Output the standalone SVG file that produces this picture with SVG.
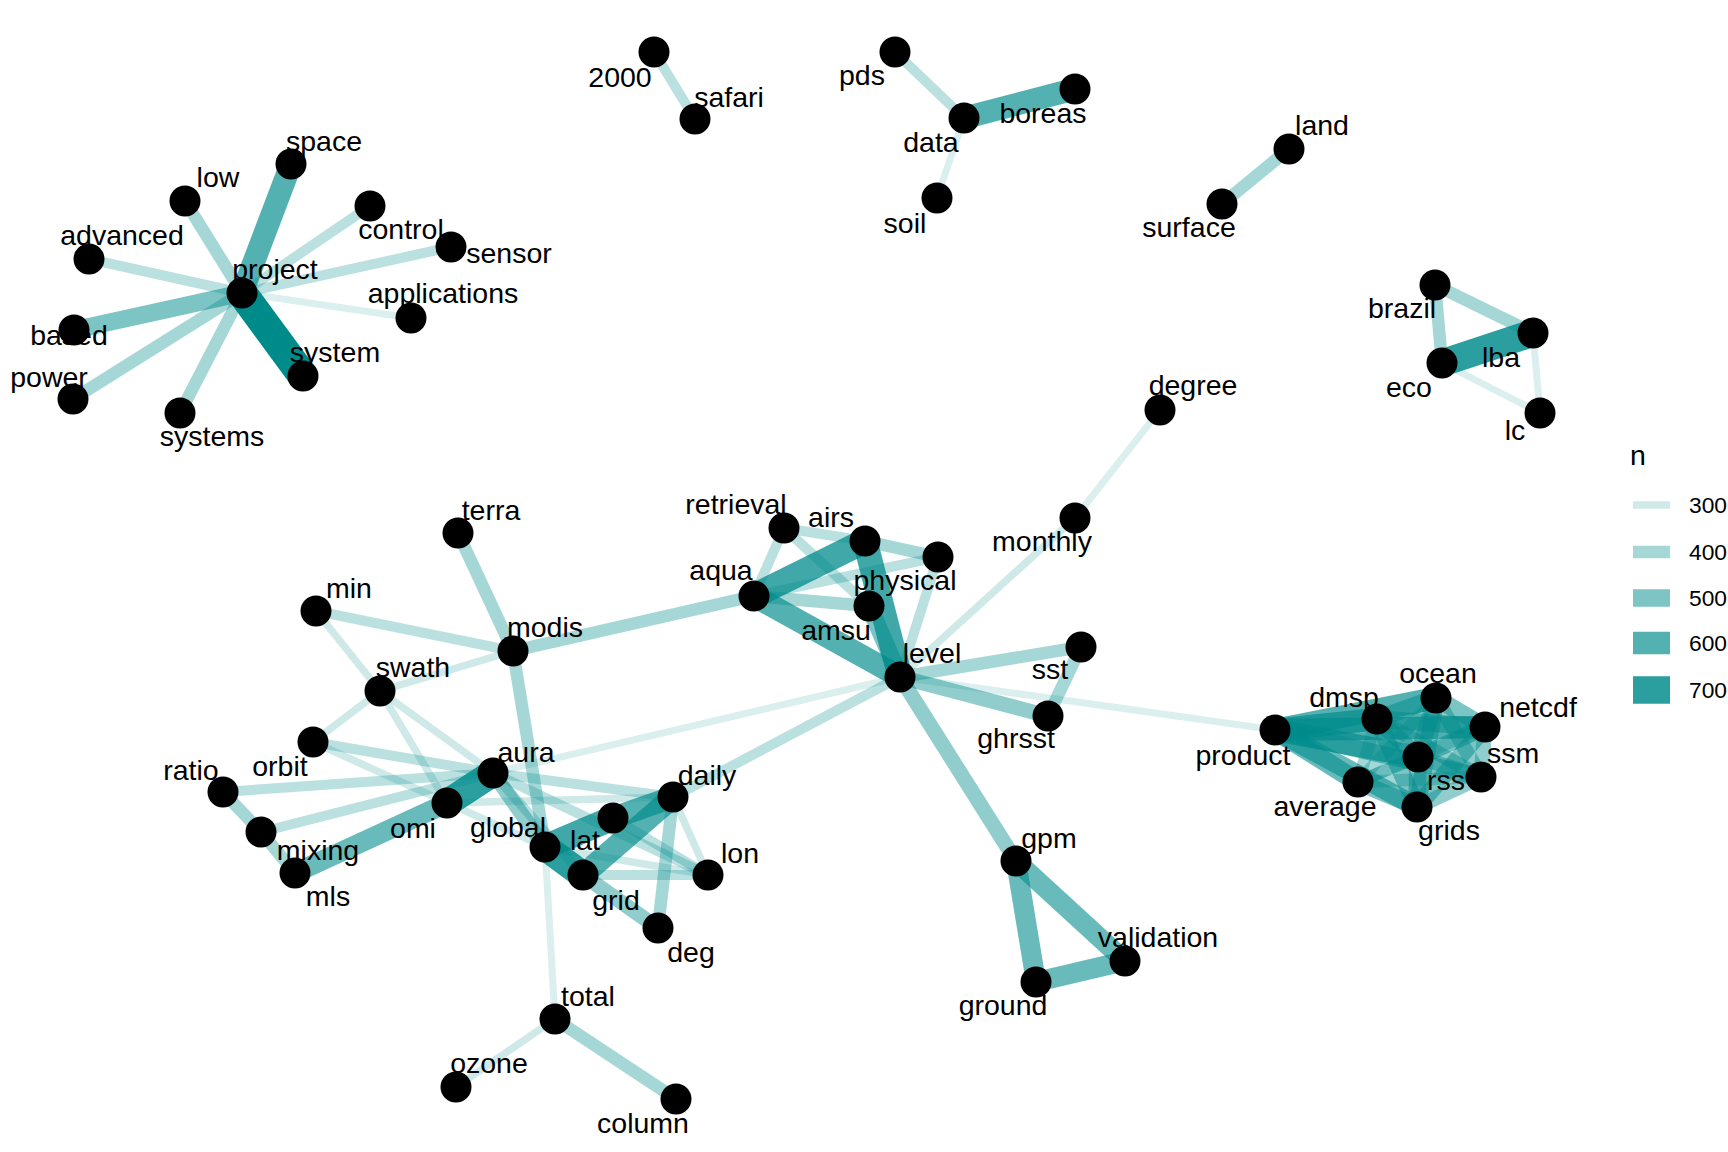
<svg xmlns="http://www.w3.org/2000/svg" width="1728" height="1152" viewBox="0 0 1728 1152">
<style>
text{font-family:"Liberation Sans",Arial,Helvetica,sans-serif;font-size:28.5px;fill:#000;text-anchor:middle}
.lg{text-anchor:start}
.lt{font-size:22.8px;text-anchor:start}
line{stroke:#008B8B;stroke-linecap:butt}
.c25{stroke-width:7px;stroke-opacity:.14}
.c3{stroke-width:7.5px;stroke-opacity:.19}
.c35{stroke-width:10px;stroke-opacity:.27}
.c4{stroke-width:12.5px;stroke-opacity:.35}
.c45{stroke-width:15px;stroke-opacity:.43}
.c5{stroke-width:17.5px;stroke-opacity:.51}
.c55{stroke-width:20px;stroke-opacity:.59}
.c6{stroke-width:22.5px;stroke-opacity:.67}
.c65{stroke-width:25px;stroke-opacity:.75}
.c7{stroke-width:27.5px;stroke-opacity:.83}
.c8{stroke-width:30px;stroke-opacity:1}
circle{fill:#000}
</style>
<rect width="1728" height="1152" fill="#fff"/>
<g id="edges">
<line class="c8" x1="242" y1="293" x2="303" y2="376"/>
<line class="c6" x1="242" y1="293" x2="291" y2="164"/>
<line class="c5" x1="242" y1="293" x2="74" y2="330"/>
<line class="c4" x1="242" y1="293" x2="185" y2="201"/>
<line class="c4" x1="242" y1="293" x2="73" y2="399"/>
<line class="c4" x1="242" y1="293" x2="180" y2="413"/>
<line class="c35" x1="242" y1="293" x2="451" y2="247"/>
<line class="c35" x1="242" y1="293" x2="89" y2="259"/>
<line class="c35" x1="242" y1="293" x2="370" y2="206"/>
<line class="c25" x1="242" y1="293" x2="411" y2="318"/>
<line class="c35" x1="654" y1="52" x2="695" y2="119"/>
<line class="c35" x1="895" y1="52" x2="964" y2="118"/>
<line class="c6" x1="964" y1="118" x2="1075" y2="89"/>
<line class="c25" x1="964" y1="118" x2="937" y2="198"/>
<line class="c4" x1="1289" y1="149" x2="1222" y2="204"/>
<line class="c4" x1="1435" y1="285" x2="1533" y2="333"/>
<line class="c4" x1="1435" y1="285" x2="1442" y2="363"/>
<line class="c7" x1="1442" y1="363" x2="1533" y2="333"/>
<line class="c25" x1="1442" y1="363" x2="1540" y2="413"/>
<line class="c25" x1="1533" y1="333" x2="1540" y2="413"/>
<line class="c25" x1="1160" y1="410" x2="1075" y2="518"/>
<line class="c3" x1="1075" y1="518" x2="900" y2="677"/>
<line class="c35" x1="754" y1="596" x2="784" y2="528"/>
<line class="c35" x1="784" y1="528" x2="865" y2="541"/>
<line class="c35" x1="784" y1="528" x2="869" y2="606"/>
<line class="c4" x1="865" y1="541" x2="938" y2="557"/>
<line class="c35" x1="754" y1="596" x2="938" y2="557"/>
<line class="c4" x1="754" y1="596" x2="869" y2="606"/>
<line class="c35" x1="938" y1="557" x2="900" y2="677"/>
<line class="c5" x1="869" y1="606" x2="900" y2="677"/>
<line class="c65" x1="754" y1="596" x2="865" y2="541"/>
<line class="c65" x1="865" y1="541" x2="900" y2="677"/>
<line class="c6" x1="754" y1="596" x2="900" y2="677"/>
<line class="c4" x1="513" y1="651" x2="754" y2="596"/>
<line class="c4" x1="900" y1="677" x2="1081" y2="647"/>
<line class="c4" x1="1081" y1="647" x2="1048" y2="716"/>
<line class="c45" x1="900" y1="677" x2="1048" y2="716"/>
<line class="c25" x1="900" y1="677" x2="1275" y2="730"/>
<line class="c45" x1="900" y1="677" x2="1016" y2="861"/>
<line class="c25" x1="900" y1="677" x2="493" y2="773"/>
<line class="c35" x1="900" y1="677" x2="673" y2="797"/>
<line class="c55" x1="1016" y1="861" x2="1125" y2="961"/>
<line class="c55" x1="1016" y1="861" x2="1036" y2="982"/>
<line class="c55" x1="1036" y1="982" x2="1125" y2="961"/>
<line class="c4" x1="458" y1="533" x2="513" y2="651"/>
<line class="c35" x1="316" y1="611" x2="513" y2="651"/>
<line class="c3" x1="316" y1="611" x2="380" y2="691"/>
<line class="c3" x1="380" y1="691" x2="513" y2="651"/>
<line class="c3" x1="380" y1="691" x2="313" y2="742"/>
<line class="c3" x1="380" y1="691" x2="447" y2="803"/>
<line class="c3" x1="380" y1="691" x2="493" y2="773"/>
<line class="c4" x1="513" y1="651" x2="545" y2="847"/>
<line class="c35" x1="313" y1="742" x2="493" y2="773"/>
<line class="c3" x1="313" y1="742" x2="545" y2="847"/>
<line class="c35" x1="223" y1="792" x2="493" y2="773"/>
<line class="c4" x1="223" y1="792" x2="261" y2="832"/>
<line class="c4" x1="261" y1="832" x2="295" y2="873"/>
<line class="c35" x1="261" y1="832" x2="493" y2="773"/>
<line class="c55" x1="295" y1="873" x2="447" y2="803"/>
<line class="c7" x1="447" y1="803" x2="493" y2="773"/>
<line class="c35" x1="493" y1="773" x2="673" y2="797"/>
<line class="c35" x1="493" y1="773" x2="708" y2="875"/>
<line class="c45" x1="493" y1="773" x2="545" y2="847"/>
<line class="c35" x1="493" y1="773" x2="583" y2="875"/>
<line class="c3" x1="447" y1="803" x2="673" y2="797"/>
<line class="c65" x1="545" y1="847" x2="613" y2="818"/>
<line class="c7" x1="545" y1="847" x2="583" y2="875"/>
<line class="c6" x1="613" y1="818" x2="673" y2="797"/>
<line class="c6" x1="583" y1="875" x2="673" y2="797"/>
<line class="c35" x1="583" y1="875" x2="708" y2="875"/>
<line class="c35" x1="613" y1="818" x2="708" y2="875"/>
<line class="c3" x1="545" y1="847" x2="708" y2="875"/>
<line class="c3" x1="673" y1="797" x2="708" y2="875"/>
<line class="c4" x1="673" y1="797" x2="658" y2="928"/>
<line class="c45" x1="583" y1="875" x2="658" y2="928"/>
<line class="c25" x1="545" y1="847" x2="555" y2="1019"/>
<line class="c3" x1="555" y1="1019" x2="456" y2="1087"/>
<line class="c4" x1="555" y1="1019" x2="676" y2="1099"/>
<line class="c6" x1="1275" y1="730" x2="1377" y2="719"/>
<line class="c6" x1="1275" y1="730" x2="1436" y2="698"/>
<line class="c6" x1="1275" y1="730" x2="1485" y2="727"/>
<line class="c6" x1="1275" y1="730" x2="1418" y2="757"/>
<line class="c5" x1="1275" y1="730" x2="1481" y2="777"/>
<line class="c55" x1="1275" y1="730" x2="1358" y2="782"/>
<line class="c55" x1="1275" y1="730" x2="1417" y2="807"/>
<line class="c5" x1="1377" y1="719" x2="1436" y2="698"/>
<line class="c5" x1="1377" y1="719" x2="1485" y2="727"/>
<line class="c5" x1="1377" y1="719" x2="1418" y2="757"/>
<line class="c45" x1="1377" y1="719" x2="1481" y2="777"/>
<line class="c4" x1="1377" y1="719" x2="1358" y2="782"/>
<line class="c5" x1="1377" y1="719" x2="1417" y2="807"/>
<line class="c5" x1="1436" y1="698" x2="1485" y2="727"/>
<line class="c5" x1="1436" y1="698" x2="1418" y2="757"/>
<line class="c45" x1="1436" y1="698" x2="1481" y2="777"/>
<line class="c4" x1="1436" y1="698" x2="1358" y2="782"/>
<line class="c5" x1="1436" y1="698" x2="1417" y2="807"/>
<line class="c5" x1="1485" y1="727" x2="1418" y2="757"/>
<line class="c45" x1="1485" y1="727" x2="1481" y2="777"/>
<line class="c4" x1="1485" y1="727" x2="1358" y2="782"/>
<line class="c5" x1="1485" y1="727" x2="1417" y2="807"/>
<line class="c45" x1="1418" y1="757" x2="1481" y2="777"/>
<line class="c4" x1="1418" y1="757" x2="1358" y2="782"/>
<line class="c5" x1="1418" y1="757" x2="1417" y2="807"/>
<line class="c4" x1="1481" y1="777" x2="1358" y2="782"/>
<line class="c45" x1="1481" y1="777" x2="1417" y2="807"/>
<line class="c5" x1="1358" y1="782" x2="1417" y2="807"/>
</g>
<g id="nodes">
<g id="n-space"><circle cx="291" cy="164" r="15.5"/><text x="324" y="151">space</text></g>
<g id="n-low"><circle cx="185" cy="201" r="15.5"/><text x="218" y="187">low</text></g>
<g id="n-control"><circle cx="370" cy="206" r="15.5"/><text x="401" y="239">control</text></g>
<g id="n-advanced"><circle cx="89" cy="259" r="15.5"/><text x="122" y="245">advanced</text></g>
<g id="n-sensor"><circle cx="451" cy="247" r="15.5"/><text x="509" y="263">sensor</text></g>
<g id="n-project"><circle cx="242" cy="293" r="15.5"/><text x="275" y="279">project</text></g>
<g id="n-applications"><circle cx="411" cy="318" r="15.5"/><text x="443" y="303">applications</text></g>
<g id="n-based"><circle cx="74" cy="330" r="15.5"/><text x="69" y="345">based</text></g>
<g id="n-system"><circle cx="303" cy="376" r="15.5"/><text x="335" y="362">system</text></g>
<g id="n-power"><circle cx="73" cy="399" r="15.5"/><text x="49" y="387">power</text></g>
<g id="n-systems"><circle cx="180" cy="413" r="15.5"/><text x="212" y="446">systems</text></g>
<g id="n-2000"><circle cx="654" cy="52" r="15.5"/><text x="620" y="87">2000</text></g>
<g id="n-safari"><circle cx="695" cy="119" r="15.5"/><text x="729" y="107">safari</text></g>
<g id="n-pds"><circle cx="895" cy="52" r="15.5"/><text x="862" y="85">pds</text></g>
<g id="n-data"><circle cx="964" cy="118" r="15.5"/><text x="931" y="152">data</text></g>
<g id="n-boreas"><circle cx="1075" cy="89" r="15.5"/><text x="1043" y="123">boreas</text></g>
<g id="n-soil"><circle cx="937" cy="198" r="15.5"/><text x="905" y="233">soil</text></g>
<g id="n-land"><circle cx="1289" cy="149" r="15.5"/><text x="1322" y="135">land</text></g>
<g id="n-surface"><circle cx="1222" cy="204" r="15.5"/><text x="1189" y="237">surface</text></g>
<g id="n-brazil"><circle cx="1435" cy="285" r="15.5"/><text x="1402" y="318">brazil</text></g>
<g id="n-lba"><circle cx="1533" cy="333" r="15.5"/><text x="1501" y="367">lba</text></g>
<g id="n-eco"><circle cx="1442" cy="363" r="15.5"/><text x="1409" y="397">eco</text></g>
<g id="n-lc"><circle cx="1540" cy="413" r="15.5"/><text x="1515" y="440">lc</text></g>
<g id="n-degree"><circle cx="1160" cy="410" r="15.5"/><text x="1193" y="395">degree</text></g>
<g id="n-monthly"><circle cx="1075" cy="518" r="15.5"/><text x="1042" y="551">monthly</text></g>
<g id="n-retrieval"><circle cx="784" cy="528" r="15.5"/><text x="736" y="514">retrieval</text></g>
<g id="n-airs"><circle cx="865" cy="541" r="15.5"/><text x="831" y="527">airs</text></g>
<g id="n-physical"><circle cx="938" cy="557" r="15.5"/><text x="905" y="590">physical</text></g>
<g id="n-aqua"><circle cx="754" cy="596" r="15.5"/><text x="721" y="580">aqua</text></g>
<g id="n-amsu"><circle cx="869" cy="606" r="15.5"/><text x="836" y="640">amsu</text></g>
<g id="n-level"><circle cx="900" cy="677" r="15.5"/><text x="932" y="663">level</text></g>
<g id="n-sst"><circle cx="1081" cy="647" r="15.5"/><text x="1050" y="679">sst</text></g>
<g id="n-ghrsst"><circle cx="1048" cy="716" r="15.5"/><text x="1016" y="748">ghrsst</text></g>
<g id="n-product"><circle cx="1275" cy="730" r="15.5"/><text x="1243" y="765">product</text></g>
<g id="n-dmsp"><circle cx="1377" cy="719" r="15.5"/><text x="1344" y="707">dmsp</text></g>
<g id="n-ocean"><circle cx="1436" cy="698" r="15.5"/><text x="1438" y="683">ocean</text></g>
<g id="n-netcdf"><circle cx="1485" cy="727" r="15.5"/><text x="1538" y="717">netcdf</text></g>
<g id="n-rss"><circle cx="1418" cy="757" r="15.5"/><text x="1446" y="790">rss</text></g>
<g id="n-ssm"><circle cx="1481" cy="777" r="15.5"/><text x="1513" y="763">ssm</text></g>
<g id="n-average"><circle cx="1358" cy="782" r="15.5"/><text x="1325" y="816">average</text></g>
<g id="n-grids"><circle cx="1417" cy="807" r="15.5"/><text x="1449" y="840">grids</text></g>
<g id="n-gpm"><circle cx="1016" cy="861" r="15.5"/><text x="1049" y="848">gpm</text></g>
<g id="n-validation"><circle cx="1125" cy="961" r="15.5"/><text x="1158" y="947">validation</text></g>
<g id="n-ground"><circle cx="1036" cy="982" r="15.5"/><text x="1003" y="1015">ground</text></g>
<g id="n-terra"><circle cx="458" cy="533" r="15.5"/><text x="491" y="520">terra</text></g>
<g id="n-min"><circle cx="316" cy="611" r="15.5"/><text x="349" y="598">min</text></g>
<g id="n-modis"><circle cx="513" cy="651" r="15.5"/><text x="545" y="637">modis</text></g>
<g id="n-swath"><circle cx="380" cy="691" r="15.5"/><text x="413" y="677">swath</text></g>
<g id="n-orbit"><circle cx="313" cy="742" r="15.5"/><text x="280" y="776">orbit</text></g>
<g id="n-ratio"><circle cx="223" cy="792" r="15.5"/><text x="191" y="780">ratio</text></g>
<g id="n-mixing"><circle cx="261" cy="832" r="15.5"/><text x="318" y="860">mixing</text></g>
<g id="n-mls"><circle cx="295" cy="873" r="15.5"/><text x="328" y="906">mls</text></g>
<g id="n-omi"><circle cx="447" cy="803" r="15.5"/><text x="413" y="838">omi</text></g>
<g id="n-aura"><circle cx="493" cy="773" r="15.5"/><text x="526" y="762">aura</text></g>
<g id="n-global"><circle cx="545" cy="847" r="15.5"/><text x="508" y="837">global</text></g>
<g id="n-lat"><circle cx="613" cy="818" r="15.5"/><text x="585" y="850">lat</text></g>
<g id="n-daily"><circle cx="673" cy="797" r="15.5"/><text x="707" y="785">daily</text></g>
<g id="n-grid"><circle cx="583" cy="875" r="15.5"/><text x="616" y="910">grid</text></g>
<g id="n-lon"><circle cx="708" cy="875" r="15.5"/><text x="740" y="863">lon</text></g>
<g id="n-deg"><circle cx="658" cy="928" r="15.5"/><text x="691" y="962">deg</text></g>
<g id="n-total"><circle cx="555" cy="1019" r="15.5"/><text x="588" y="1006">total</text></g>
<g id="n-ozone"><circle cx="456" cy="1087" r="15.5"/><text x="489" y="1073">ozone</text></g>
<g id="n-column"><circle cx="676" cy="1099" r="15.5"/><text x="643" y="1133">column</text></g>
</g>
<g id="legend">
<text class="lg" x="1630" y="465">n</text>
<rect x="1633" y="501.25" width="37" height="7.5" fill="#008B8B" fill-opacity=".19"/>
<rect x="1633" y="545.75" width="37" height="12.5" fill="#008B8B" fill-opacity=".35"/>
<rect x="1633" y="589.25" width="37" height="17.5" fill="#008B8B" fill-opacity=".51"/>
<rect x="1633" y="631.75" width="37" height="22.5" fill="#008B8B" fill-opacity=".67"/>
<rect x="1633" y="676.25" width="37" height="27.5" fill="#008B8B" fill-opacity=".83"/>
<text class="lt" x="1689" y="513">300</text>
<text class="lt" x="1689" y="560">400</text>
<text class="lt" x="1689" y="606">500</text>
<text class="lt" x="1689" y="651">600</text>
<text class="lt" x="1689" y="698">700</text>
</g>
</svg>
